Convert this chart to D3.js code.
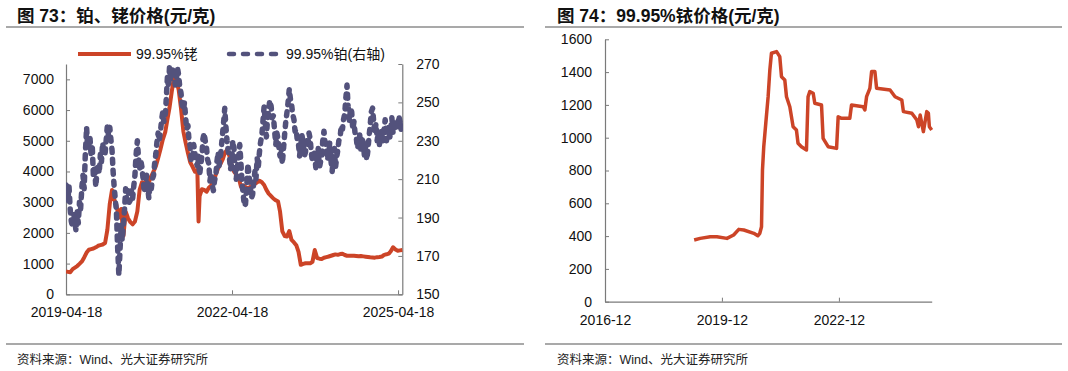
<!DOCTYPE html>
<html>
<head>
<meta charset="utf-8">
<script src="https://cdn.jsdelivr.net/npm/d3@7"></script>
<style>
  body { margin: 0; background: #fff; }
  svg text { font-family: "Liberation Sans", "Noto Sans CJK SC", sans-serif; }
</style>
</head>
<body>
<div id="chart"></div>
<script>
// ---- data: left chart, 99.95% rhodium (left axis), half-monthly readings
var rhodiumDates = [
  "2019-04-18","2019-05-01","2019-05-16","2019-06-01","2019-06-16","2019-07-01","2019-07-16","2019-08-01","2019-08-16","2019-09-01","2019-09-16","2019-10-01","2019-10-16","2019-11-01","2019-11-16","2019-12-01","2019-12-16",
  "2020-01-01","2020-01-16","2020-02-01","2020-02-16","2020-03-01","2020-03-16","2020-04-01","2020-04-16","2020-05-01","2020-05-16","2020-06-01","2020-06-16","2020-07-01","2020-07-16","2020-08-01","2020-08-16","2020-09-01","2020-09-16","2020-10-01","2020-10-16","2020-11-01","2020-11-16","2020-12-01","2020-12-16",
  "2021-01-01","2021-01-16","2021-02-01","2021-02-16","2021-03-01","2021-03-16","2021-04-01","2021-04-16","2021-05-01","2021-05-16","2021-06-01","2021-06-16","2021-07-01","2021-07-16","2021-08-01","2021-08-16","2021-09-01","2021-09-09","2021-09-16","2021-10-01","2021-10-16","2021-11-01","2021-11-16","2021-12-01","2021-12-16",
  "2022-01-01","2022-01-16","2022-02-01","2022-02-16","2022-03-01","2022-03-16","2022-04-01","2022-04-16","2022-05-01","2022-05-16","2022-06-01","2022-06-16","2022-07-01","2022-07-16","2022-08-01","2022-08-16","2022-09-01","2022-09-16","2022-10-01","2022-10-16","2022-11-01","2022-11-16","2022-12-01","2022-12-16",
  "2023-01-01","2023-01-16","2023-02-01","2023-02-16","2023-03-01","2023-03-16","2023-04-01","2023-04-16","2023-05-01","2023-05-16","2023-06-01","2023-06-16","2023-07-01","2023-07-16","2023-08-01","2023-08-16","2023-09-01","2023-09-16","2023-10-01","2023-10-16","2023-11-01","2023-11-16","2023-12-01","2023-12-16",
  "2024-01-01","2024-01-16","2024-02-01","2024-02-16","2024-03-01","2024-03-16","2024-04-01","2024-04-16","2024-05-01","2024-05-16","2024-06-01","2024-06-16","2024-07-01","2024-07-16","2024-08-01","2024-08-16","2024-09-01","2024-09-16","2024-10-01","2024-10-16","2024-11-01","2024-11-16","2024-12-01","2024-12-16",
  "2025-01-01","2025-01-16","2025-02-01","2025-02-16","2025-03-01","2025-03-16","2025-04-01","2025-04-16","2025-05-01","2025-05-16"
];
var rhodiumPrice = [
  740,730,720,820,870,920,990,1070,1200,1360,1450,1470,1490,1530,1580,1600,1620,
  1670,2100,2950,3400,3100,2900,2500,2780,1900,2690,2470,2350,2280,2370,2700,3400,3650,3620,3700,3650,3850,4000,4170,4430,
  4730,5040,5280,5710,6070,6600,7100,6980,6650,6060,5300,4930,4600,4300,4150,3990,4050,2370,3200,3420,3400,3340,3470,3540,3690,
  3900,4100,4250,4400,4600,4700,4500,4200,4000,3900,3800,3500,3550,3500,3450,3500,3550,3600,3650,3700,3650,3560,3400,3280,
  3200,3120,3060,3020,2690,2050,1900,1880,2060,1770,1690,1600,1380,960,990,1010,1010,1010,1060,1440,1180,1160,1150,1190,
  1210,1230,1255,1280,1300,1285,1310,1320,1280,1255,1255,1259,1259,1250,1237,1245,1235,1225,1215,1205,1200,1194,1210,1215,
  1230,1285,1302,1325,1400,1530,1460,1420,1430,1440
];

// ---- data: left chart, 99.95% platinum (right axis), weekly readings
var platinumDates = [
  "2019-04-18","2019-04-24",
  "2019-05-01","2019-05-08","2019-05-16","2019-05-23","2019-06-01","2019-06-08","2019-06-16","2019-06-23","2019-07-01","2019-07-08","2019-07-16","2019-07-23","2019-08-01","2019-08-08","2019-08-16","2019-08-23",
  "2019-09-01","2019-09-08","2019-09-16","2019-09-23","2019-10-01","2019-10-08","2019-10-16","2019-10-23","2019-11-01","2019-11-08","2019-11-16","2019-11-23","2019-12-01","2019-12-08","2019-12-16","2019-12-23",
  "2020-01-01","2020-01-08","2020-01-16","2020-01-23","2020-02-01","2020-02-08","2020-02-16","2020-02-23","2020-03-01","2020-03-08","2020-03-16","2020-03-23","2020-04-01","2020-04-08","2020-04-16","2020-04-23",
  "2020-05-01","2020-05-08","2020-05-16","2020-05-23","2020-06-01","2020-06-08","2020-06-16","2020-06-23","2020-07-01","2020-07-08","2020-07-16","2020-07-23","2020-08-01","2020-08-08","2020-08-16","2020-08-23",
  "2020-09-01","2020-09-08","2020-09-16","2020-09-23","2020-10-01","2020-10-08","2020-10-16","2020-10-23","2020-11-01","2020-11-08","2020-11-16","2020-11-23","2020-12-01","2020-12-08","2020-12-16","2020-12-23",
  "2021-01-01","2021-01-08","2021-01-16","2021-01-23","2021-02-01","2021-02-08","2021-02-16","2021-02-23","2021-03-01","2021-03-08","2021-03-16","2021-03-23","2021-04-01","2021-04-08","2021-04-16","2021-04-23",
  "2021-05-01","2021-05-08","2021-05-16","2021-05-23","2021-06-01","2021-06-08","2021-06-16","2021-06-23","2021-07-01","2021-07-08","2021-07-16","2021-07-23","2021-08-01","2021-08-08","2021-08-16","2021-08-23",
  "2021-09-01","2021-09-08","2021-09-16","2021-09-23","2021-10-01","2021-10-08","2021-10-16","2021-10-23","2021-11-01","2021-11-08","2021-11-16","2021-11-23","2021-12-01","2021-12-08","2021-12-16","2021-12-23",
  "2022-01-01","2022-01-08","2022-01-16","2022-01-23","2022-02-01","2022-02-08","2022-02-16","2022-02-23","2022-03-01","2022-03-08","2022-03-16","2022-03-23","2022-04-01","2022-04-08","2022-04-16","2022-04-23",
  "2022-05-01","2022-05-08","2022-05-16","2022-05-23","2022-06-01","2022-06-08","2022-06-16","2022-06-23","2022-07-01","2022-07-08","2022-07-16","2022-07-23","2022-08-01","2022-08-08","2022-08-16","2022-08-23",
  "2022-09-01","2022-09-08","2022-09-16","2022-09-23","2022-10-01","2022-10-08","2022-10-16","2022-10-23","2022-11-01","2022-11-08","2022-11-16","2022-11-23","2022-12-01","2022-12-08","2022-12-16","2022-12-23",
  "2023-01-01","2023-01-08","2023-01-16","2023-01-23","2023-02-01","2023-02-08","2023-02-16","2023-02-23","2023-03-01","2023-03-08","2023-03-16","2023-03-23","2023-04-01","2023-04-08","2023-04-16","2023-04-23",
  "2023-05-01","2023-05-08","2023-05-16","2023-05-23","2023-06-01","2023-06-08","2023-06-16","2023-06-23","2023-07-01","2023-07-08","2023-07-16","2023-07-23","2023-08-01","2023-08-08","2023-08-16","2023-08-23",
  "2023-09-01","2023-09-08","2023-09-16","2023-09-23","2023-10-01","2023-10-08","2023-10-16","2023-10-23","2023-11-01","2023-11-08","2023-11-16","2023-11-23","2023-12-01","2023-12-08","2023-12-16","2023-12-23",
  "2024-01-01","2024-01-08","2024-01-16","2024-01-23","2024-02-01","2024-02-08","2024-02-16","2024-02-23","2024-03-01","2024-03-08","2024-03-16","2024-03-23","2024-04-01","2024-04-08","2024-04-16","2024-04-23",
  "2024-05-01","2024-05-08","2024-05-16","2024-05-23","2024-06-01","2024-06-08","2024-06-16","2024-06-23","2024-07-01","2024-07-08","2024-07-16","2024-07-23","2024-08-01","2024-08-08","2024-08-16","2024-08-23",
  "2024-09-01","2024-09-08","2024-09-16","2024-09-23","2024-10-01","2024-10-08","2024-10-16","2024-10-23","2024-11-01","2024-11-08","2024-11-16","2024-11-23","2024-12-01","2024-12-08","2024-12-16","2024-12-23",
  "2025-01-01","2025-01-08","2025-01-16","2025-01-23","2025-02-01","2025-02-08","2025-02-16","2025-02-23","2025-03-01","2025-03-08","2025-03-16","2025-03-23","2025-04-01","2025-04-08","2025-04-16","2025-04-23",
  "2025-05-01","2025-05-08","2025-05-16"
];
var platinumPrice = [
  207,198,
  200,206,194,188, 185,192,188,183, 193,187,198,194, 206,212,205,222,
  237,226,229,232, 222,228,211,217, 206,214,218,213, 223,219,229,224,
  223,230,238,233, 237,231,225,214, 206,200,193,176, 160,172,186,178,
  186,194,205,199, 204,198,199,204, 200,206,212,222, 230,222,215,220,
  216,210,203,208, 212,206,200,207, 205,210,212,218, 223,229,234,230,
  235,241,245,240, 243,252,264,258, 268,262,262,268, 268,259,262,268,
  264,258,255,249, 246,250,242,236, 238,230,227,219, 222,228,224,219,
  217,222,212,217, 222,231,234,230, 226,220,218,209, 213,207,204,209,
  212,219,224,217, 222,228,235,241, 247,238,230,225, 221,215,219,230,
  226,217,210,216, 222,228,218,208, 202,196,197,205, 218,212,207,200,
  202,208,214,210, 221,216,224,229, 233,240,248,240, 232,241,246,251,
  248,242,243,236, 228,234,231,225, 222,227,218,225, 234,240,245,250,
  257,252,249,244, 241,235,236,230, 228,222,228,233, 229,222,224,230,
  227,234,231,224, 219,225,223,216, 221,226,216,219, 222,230,235,229,
  227,220,224,229, 219,214,222,226, 216,221,225,230, 232,238,236,241,
  244,252,259,248, 240,247,245,236, 240,234,232,226, 228,233,224,231,
  229,222,227,220, 225,232,238,245, 247,240,234,239, 230,235,228,233,
  235,230,236,241, 230,236,237,232, 237,242,234,239, 241,236,238,243,
  240,236,240
];
var metalXTicks = ["2019-04-18", "2022-04-18", "2025-04-18"];
var rhodiumTicks = [0, 1000, 2000, 3000, 4000, 5000, 6000, 7000];
var platinumTicks = [150, 170, 190, 210, 230, 250, 270];

// ---- data: right chart, 99.95% iridium
var iridiumDates = [
  "2019-03-16","2019-05-12","2019-08-14","2019-10-15","2020-01-17","2020-03-20","2020-05-07","2020-06-23","2020-09-25","2020-11-01",
  "2020-11-20","2020-12-06","2020-12-15","2020-12-27","2021-01-15","2021-02-06","2021-02-22","2021-03-09","2021-04-26","2021-05-26",
  "2021-06-11","2021-07-12","2021-07-28","2021-08-28","2021-09-28","2021-10-29","2021-11-13","2021-12-15","2022-01-31","2022-02-15",
  "2022-03-03","2022-04-04","2022-04-19","2022-06-21","2022-07-06","2022-08-22","2022-11-09","2022-11-24","2022-12-26","2023-03-13",
  "2023-03-29","2023-07-16","2023-08-01","2023-08-17","2023-09-17","2023-10-03","2023-11-03","2023-11-19","2024-03-24","2024-05-10",
  "2024-07-12","2024-07-27","2024-10-14","2024-11-30","2024-12-15","2024-12-31","2025-01-30","2025-03-03","2025-03-18","2025-03-27",
  "2025-04-18"
];
var iridiumPrice = [
  376,386,396,396,386,407,441,437,417,402,
  417,457,803,945,1088,1250,1413,1515,1525,1494,
  1372,1352,1250,1189,1067,1047,966,945,925,1250,
  1281,1271,1210,1199,996,945,935,1128,1118,1118,
  1199,1189,1169,1250,1301,1403,1403,1301,1291,1250,
  1230,1159,1149,1108,1067,1138,1037,1159,1149,1067,
  1047
];
var iridiumXTicks = ["2016-12-01", "2019-12-01", "2022-12-01"];
var iridiumTicks = [0, 200, 400, 600, 800, 1000, 1200, 1400, 1600];

// ---- setup
var width = 1068, height = 371;
var red = "#cc4427";
var slate = "#53527c";
var axisColor = "#7a7a7a";
var parseDate = d3.timeParse("%Y-%m-%d");

var svg = d3.select("#chart").append("svg")
  .attr("width", width)
  .attr("height", height);

// title, rules and source note for each panel
function panelFrame(x0, x1, titleX, title) {
  svg.append("text")
    .attr("x", titleX).attr("y", 22)
    .attr("font-size", 17.5).attr("font-weight", "bold").attr("fill", "#111")
    .text(title);
  svg.append("line")
    .attr("x1", x0).attr("x2", x1).attr("y1", 27).attr("y2", 27)
    .attr("stroke", "#555").attr("stroke-width", 1.2);
  svg.append("line")
    .attr("x1", x0).attr("x2", x1).attr("y1", 344).attr("y2", 344)
    .attr("stroke", "#555").attr("stroke-width", 1.2);
  svg.append("text")
    .attr("x", titleX).attr("y", 364)
    .attr("font-size", 12.5).attr("fill", "#222")
    .text("资料来源：Wind、光大证券研究所");
}
panelFrame(6, 524, 17, "图 73：铂、铑价格(元/克)");
panelFrame(545, 1062, 557, "图 74：99.95%铱价格(元/克)");

function styleAxis(g) {
  g.select(".domain").attr("stroke", axisColor).attr("stroke-width", 1.2);
  g.selectAll(".tick line").attr("stroke", axisColor);
  g.selectAll(".tick text").attr("font-size", 14).attr("fill", "#111")
    .attr("font-family", "Liberation Sans, sans-serif");
}

// ---- left chart
var rhodiumData = rhodiumDates.map(function(d, i) {
  return { date: parseDate(d), v: rhodiumPrice[i] };
});
var platinumData = platinumDates.map(function(d, i) {
  return { date: parseDate(d), v: platinumPrice[i] };
});

var xLeft = d3.scaleTime()
  .domain([parseDate("2019-04-18"), parseDate("2025-05-16")])
  .range([66, 402.3]);
var yRh = d3.scaleLinear().domain([0, 7500]).range([294.3, 64]);
var yPt = d3.scaleLinear().domain([150, 270]).range([294.3, 64]);

svg.append("clipPath").attr("id", "clipLeft")
  .append("rect").attr("x", 66).attr("y", 64).attr("width", 337).attr("height", 231);

svg.append("g")
  .attr("transform", "translate(0,294.3)")
  .call(d3.axisBottom(xLeft)
    .tickValues(metalXTicks.map(parseDate))
    .tickFormat(d3.timeFormat("%Y-%m-%d"))
    .tickSizeInner(-4).tickSizeOuter(0).tickPadding(13))
  .call(styleAxis);

svg.append("g")
  .attr("transform", "translate(66,0)")
  .call(d3.axisLeft(yRh).tickValues(rhodiumTicks).tickFormat(d3.format("d"))
    .tickSizeInner(-4).tickSizeOuter(0).tickPadding(12))
  .call(styleAxis);

svg.append("g")
  .attr("transform", "translate(402.3,0)")
  .call(d3.axisRight(yPt).tickValues(platinumTicks).tickFormat(d3.format("d"))
    .tickSizeInner(-4).tickSizeOuter(0).tickPadding(14))
  .call(styleAxis);

var plotLeft = svg.append("g").attr("clip-path", "url(#clipLeft)");
plotLeft.append("path")
  .datum(rhodiumData)
  .attr("d", d3.line()
    .x(function(d) { return xLeft(d.date); })
    .y(function(d) { return yRh(d.v); }))
  .attr("fill", "none")
  .attr("stroke", red)
  .attr("stroke-width", 4)
  .attr("stroke-linejoin", "round");
plotLeft.append("path")
  .datum(platinumData)
  .attr("d", d3.line()
    .x(function(d) { return xLeft(d.date); })
    .y(function(d) { return yPt(d.v); }))
  .attr("fill", "none")
  .attr("stroke", slate)
  .attr("stroke-width", 5.5)
  .attr("stroke-linecap", "round")
  .attr("stroke-linejoin", "round")
  .attr("stroke-dasharray", "4,7");

// legend
var legend = svg.append("g");
legend.append("line")
  .attr("x1", 78).attr("x2", 131).attr("y1", 54).attr("y2", 54)
  .attr("stroke", red).attr("stroke-width", 4);
legend.append("text")
  .attr("x", 136).attr("y", 59).attr("font-size", 14).attr("fill", "#111")
  .text("99.95%铑");
legend.append("line")
  .attr("x1", 229).attr("x2", 279).attr("y1", 54).attr("y2", 54)
  .attr("stroke", slate).attr("stroke-width", 4.5)
  .attr("stroke-linecap", "round").attr("stroke-dasharray", "5,9");
legend.append("text")
  .attr("x", 286).attr("y", 59).attr("font-size", 14).attr("fill", "#111")
  .text("99.95%铂(右轴)");

// ---- right chart
var iridiumData = iridiumDates.map(function(d, i) {
  return { date: parseDate(d), v: iridiumPrice[i] };
});

var xRight = d3.scaleTime()
  .domain([parseDate("2016-12-01"), parseDate("2025-04-18")])
  .range([605, 931.7]);
var yIr = d3.scaleLinear().domain([0, 1600]).range([301.7, 39.3]);

svg.append("g")
  .attr("transform", "translate(0,301.7)")
  .call(d3.axisBottom(xRight)
    .tickValues(iridiumXTicks.map(parseDate))
    .tickFormat(d3.timeFormat("%Y-%m"))
    .tickSizeInner(-4).tickSizeOuter(0).tickPadding(13))
  .call(styleAxis);

svg.append("g")
  .attr("transform", "translate(605,0)")
  .call(d3.axisLeft(yIr).tickValues(iridiumTicks).tickFormat(d3.format("d"))
    .tickSizeInner(-4).tickSizeOuter(0).tickPadding(13))
  .call(styleAxis);

svg.append("path")
  .datum(iridiumData)
  .attr("d", d3.line()
    .x(function(d) { return xRight(d.date); })
    .y(function(d) { return yIr(d.v); }))
  .attr("fill", "none")
  .attr("stroke", red)
  .attr("stroke-width", 3.5)
  .attr("stroke-linejoin", "round");
</script>
</body>
</html>
